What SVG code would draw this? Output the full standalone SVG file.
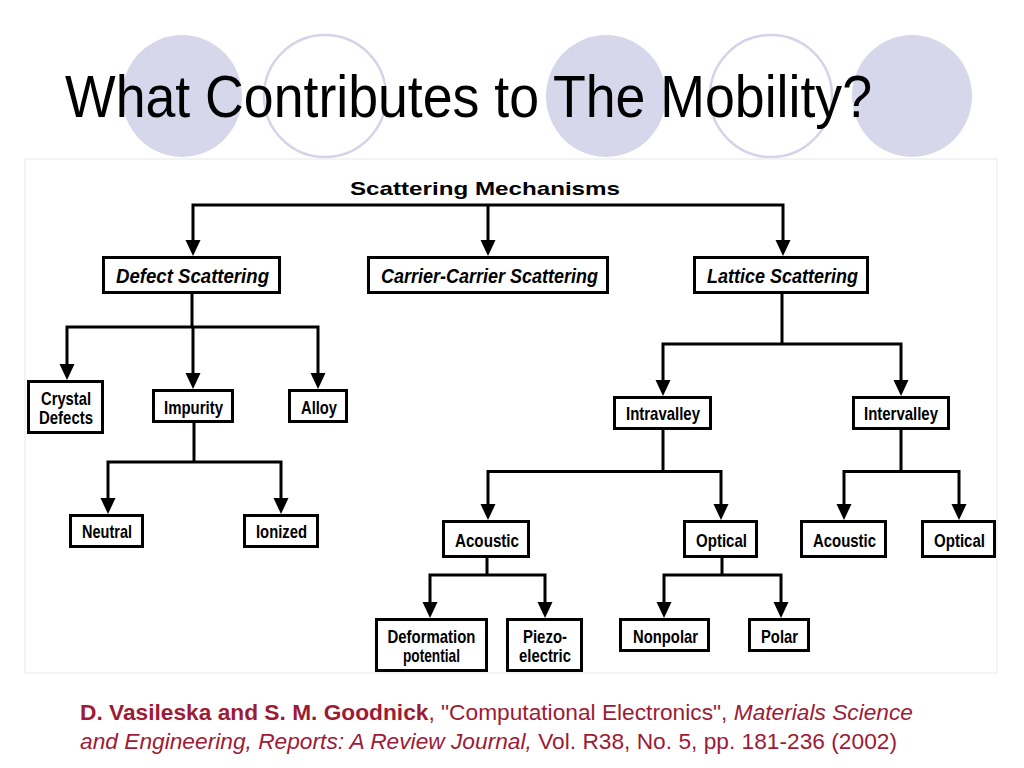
<svg xmlns="http://www.w3.org/2000/svg" width="1024" height="768" viewBox="0 0 1024 768">
<style>
.bg{fill:#fff}
.cf{fill:#d7d7ec}
.co{fill:none;stroke:#d4d4e8;stroke-width:2.5}
.panel{fill:#fff;stroke:#f0f0f0;stroke-width:1.5}
.box{fill:#fff;stroke:#000;stroke-width:3}
.lbl{font-family:"Liberation Sans",Arial,sans-serif;font-weight:bold;font-size:19px;fill:#000;text-anchor:middle}
.it{font-style:italic;font-size:21px}
.conn{fill:none;stroke:#000;stroke-width:3;stroke-linejoin:miter}
.title{font-family:"Liberation Sans",Arial,sans-serif;font-size:60px;fill:#000}
.cite{font-family:"Liberation Sans",Arial,sans-serif;font-size:22px;fill:#9e1a35}
</style>
<defs>
<path id="ah" d="M-7.5,-16 L7.5,-16 L0,0 Z" fill="#000"/>
</defs>
<rect class="bg" x="0" y="0" width="1024" height="768"/>
<g id="decor">
<ellipse class="cf" cx="182" cy="96" rx="60" ry="61"/>
<ellipse class="co" cx="325" cy="96" rx="61" ry="61"/>
<ellipse class="cf" cx="606" cy="96" rx="60" ry="61"/>
<ellipse class="co" cx="771" cy="96" rx="61" ry="61"/>
<ellipse class="cf" cx="912" cy="96" rx="60" ry="61"/>
</g>
<text id="title" class="title" x="65" y="117" textLength="807" lengthAdjust="spacingAndGlyphs">What Contributes to The Mobility?</text>
<rect class="panel" x="25" y="159" width="972" height="514"/>
<text id="root" class="lbl" x="485" y="195" font-size="27" textLength="270" lengthAdjust="spacingAndGlyphs">Scattering Mechanisms</text>
<g id="connectors">
<path class="conn" d="M193,241 V205 H783 V241 M488,205 V241"/>
<path class="conn" d="M192,294 V327 M67,365 V327 H318 V374 M193,327 V374"/>
<path class="conn" d="M194,423 V462 M108,499 V462 H281 V499"/>
<path class="conn" d="M782,294 V344 M663,381 V344 H901 V381"/>
<path class="conn" d="M663,430 V471.5 M488,505 V471.5 H721 V505"/>
<path class="conn" d="M901,430 V471.5 M844,505 V471.5 H959 V505"/>
<path class="conn" d="M487,558 V575 M430,603 V575 H545 V603"/>
<path class="conn" d="M722,558 V575 M664,603 V575 H781 V603"/>
<use href="#ah" x="193" y="256"/><use href="#ah" x="488" y="256"/><use href="#ah" x="783" y="256"/>
<use href="#ah" x="67" y="380"/><use href="#ah" x="193" y="389"/><use href="#ah" x="318" y="389"/>
<use href="#ah" x="108" y="514"/><use href="#ah" x="281" y="514"/>
<use href="#ah" x="663" y="396"/><use href="#ah" x="901" y="396"/>
<use href="#ah" x="488" y="520"/><use href="#ah" x="721" y="520"/>
<use href="#ah" x="844" y="520"/><use href="#ah" x="959" y="520"/>
<use href="#ah" x="430" y="618"/><use href="#ah" x="545" y="618"/>
<use href="#ah" x="664" y="618"/><use href="#ah" x="781" y="618"/>
</g>
<g id="defect"><rect class="box" x="103.5" y="257.5" width="176" height="35"/><text class="lbl it" x="192.5" y="283" textLength="153" lengthAdjust="spacingAndGlyphs">Defect  Scattering</text></g>
<g id="carrier"><rect class="box" x="368.5" y="257.5" width="239" height="35"/><text class="lbl it" x="489.5" y="283" textLength="217" lengthAdjust="spacingAndGlyphs">Carrier-Carrier Scattering</text></g>
<g id="lattice"><rect class="box" x="694.5" y="257.5" width="173" height="35"/><text class="lbl it" x="782.5" y="283" textLength="151" lengthAdjust="spacingAndGlyphs">Lattice Scattering</text></g>
<g id="crystal"><rect class="box" x="28.5" y="381.5" width="74" height="51"/><text class="lbl" x="66" y="405" textLength="50" lengthAdjust="spacingAndGlyphs">Crystal</text><text class="lbl" x="66" y="424" textLength="54" lengthAdjust="spacingAndGlyphs">Defects</text></g>
<g id="impurity"><rect class="box" x="153.5" y="390.5" width="79" height="31"/><text class="lbl" x="193.5" y="414" textLength="59" lengthAdjust="spacingAndGlyphs">Impurity</text></g>
<g id="alloy"><rect class="box" x="289.5" y="390.5" width="57" height="31"/><text class="lbl" x="319" y="414" textLength="36" lengthAdjust="spacingAndGlyphs">Alloy</text></g>
<g id="neutral"><rect class="box" x="70.5" y="515.5" width="72" height="31"/><text class="lbl" x="107" y="538" textLength="50" lengthAdjust="spacingAndGlyphs">Neutral</text></g>
<g id="ionized"><rect class="box" x="244.5" y="515.5" width="73" height="31"/><text class="lbl" x="281.5" y="538" textLength="51" lengthAdjust="spacingAndGlyphs">Ionized</text></g>
<g id="intravalley"><rect class="box" x="614.5" y="397.5" width="96" height="31"/><text class="lbl" x="663" y="420" textLength="74" lengthAdjust="spacingAndGlyphs">Intravalley</text></g>
<g id="intervalley"><rect class="box" x="853.5" y="397.5" width="95" height="31"/><text class="lbl" x="901" y="420" textLength="74" lengthAdjust="spacingAndGlyphs">Intervalley</text></g>
<g id="acoustic1"><rect class="box" x="443.5" y="521.5" width="85" height="35"/><text class="lbl" x="487" y="547" textLength="64" lengthAdjust="spacingAndGlyphs">Acoustic</text></g>
<g id="optical1"><rect class="box" x="684.5" y="521.5" width="72" height="35"/><text class="lbl" x="721.5" y="547" textLength="51" lengthAdjust="spacingAndGlyphs">Optical</text></g>
<g id="acoustic2"><rect class="box" x="801.5" y="521.5" width="84" height="35"/><text class="lbl" x="844.5" y="547" textLength="63" lengthAdjust="spacingAndGlyphs">Acoustic</text></g>
<g id="optical2"><rect class="box" x="922.5" y="521.5" width="72" height="35"/><text class="lbl" x="959.5" y="547" textLength="51" lengthAdjust="spacingAndGlyphs">Optical</text></g>
<g id="deformation"><rect class="box" x="376.5" y="619.5" width="110" height="51"/><text class="lbl" x="431.5" y="643" textLength="88" lengthAdjust="spacingAndGlyphs">Deformation</text><text class="lbl" x="431.5" y="662" textLength="57" lengthAdjust="spacingAndGlyphs">potential</text></g>
<g id="piezo"><rect class="box" x="507.5" y="619.5" width="74" height="51"/><text class="lbl" x="545" y="643" textLength="44" lengthAdjust="spacingAndGlyphs">Piezo-</text><text class="lbl" x="545" y="662" textLength="52" lengthAdjust="spacingAndGlyphs">electric</text></g>
<g id="nonpolar"><rect class="box" x="620.5" y="619.5" width="88" height="31"/><text class="lbl" x="665.5" y="643" textLength="65" lengthAdjust="spacingAndGlyphs">Nonpolar</text></g>
<g id="polar"><rect class="box" x="749.5" y="619.5" width="59" height="31"/><text class="lbl" x="779.5" y="643" textLength="37" lengthAdjust="spacingAndGlyphs">Polar</text></g>
<g id="citation">
<text class="cite" x="80" y="720" textLength="833" lengthAdjust="spacingAndGlyphs"><tspan font-weight="bold">D. Vasileska and S. M. Goodnick</tspan>, "Computational Electronics", <tspan font-style="italic">Materials Science</tspan></text>
<text class="cite" x="80" y="749" textLength="817" lengthAdjust="spacingAndGlyphs"><tspan font-style="italic">and Engineering, Reports: A Review Journal,</tspan> Vol. R38, No. 5, pp. 181-236 (2002)</text>
</g>
</svg>
